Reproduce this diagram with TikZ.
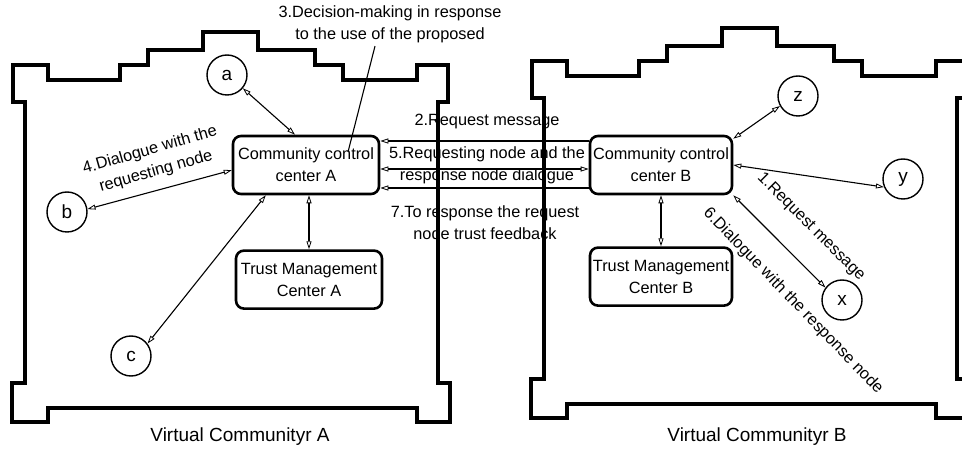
\documentclass[tikz,border=0pt]{standalone}
\usepackage{fontspec}
\setmainfont{Liberation Sans}
\usetikzlibrary{positioning,arrows.meta}

\begin{document}
\begin{tikzpicture}[
    x=1pt, y=-1pt,
    font=\fontsize{16.3}{22}\selectfont,
    ctrl/.style={rectangle, rounded corners=8pt, draw, line width=2.6pt, minimum width=146pt, minimum height=58pt, inner sep=2pt, align=center},
    peer/.style={circle, draw, line width=1.4pt, minimum size=40pt, inner sep=0pt, font=\fontsize{19}{22}\selectfont},
    wall/.style={line width=3.6pt, line join=miter},
    twoway/.style={line width=1.1pt, {Triangle[open,length=8pt,width=5pt,line width=0.8pt]}-{Triangle[open,length=8pt,width=5pt,line width=0.8pt]}},
    oneway/.style={line width=1.1pt, -{Triangle[open,length=8pt,width=5pt,line width=0.8pt]}},
    note/.style={align=center}
]
    \useasboundingbox (0,0) rectangle (962,454);
    \clip (0,0) rectangle (962,454);

    % Community walls
    \foreach \dx/\dy in {0/0, 519/-4} {
        \draw[wall, shift={(\dx,\dy)}] (13,65) -- (48,65) -- (48,80) -- (120,80) -- (120,65) -- (148,65)
            -- (148,50) -- (203,50) -- (203,32) -- (258,32) -- (258,50) -- (315,50) -- (315,65)
            -- (343,65) -- (343,80) -- (417,80) -- (417,65) -- (448,65) -- (448,102) -- (438,102)
            -- (438,383) -- (450,383) -- (450,422) -- (417,422) -- (417,408) -- (48,408) -- (48,422)
            -- (12,422) -- (12,383) -- (25,383) -- (25,102) -- (13,102) -- cycle;
    }
    \node[font=\fontsize{19}{22}\selectfont] (capa) at (240,437) {Virtual Communityr A};
    \node[font=\fontsize{19}{22}\selectfont] (capb) at (757,437) {Virtual Communityr B};

    % Centers
    \node[ctrl] (cca) at (306,165) {Community control\\center A};
    \node[ctrl, below=54pt of cca, xshift=3pt] (tma) {Trust Management\\Center A};
    \node[ctrl, minimum width=142pt] (ccb) at (661,165) {Community control\\center B};
    \node[ctrl, minimum width=142pt, below=51pt of ccb] (tmb) {Trust Management\\Center B};

    % Members
    \node[peer] (na) at (227,75) {a};
    \node[peer] (nb) at (67,212) {b};
    \node[peer] (nc) at (131,356) {c};
    \node[peer] (nz) at (798,96) {z};
    \node[peer] (ny) at (903,179) {y};
    \node[peer] (nx) at (842,300) {x};

    % Labels
    \node[note] (msg3) at (390,24) {3.Decision-making in response\\to the use of the proposed};
    \node[note] (msg2) at (487,122) {2.Request message};
    \node[note] (msg5) at (487,165) {5.Requesting node and the\\response node dialogue};
    \node[note] (msg7) at (485,223) {7.To response the request\\node trust feedback};
    \node[note, rotate=16] (msg4) at (153,161) {4.Dialogue with the\\requesting node};
    \node[note, rotate=-45] (msg1) at (811,227) {1.Request message};
    \node[note, rotate=-46] (msg6) at (793,301) {6.Dialogue with the response node};
    \coordinate (c3) at (348,152);

    % Arrows
    \draw[line width=1.1pt] ([xshift=-15pt]msg3.south) -- (c3);
    \draw[twoway] (na.-40) -- (cca.110);
    \draw[twoway] (nb.8) -- (cca.184);
    \draw[twoway] (nc.37) -- (cca.217);
    \draw[twoway] (cca.south -| tma.north) -- (tma.north);
    \draw[oneway] ([yshift=24pt]ccb.west) -- ([yshift=24pt]cca.east);
    \draw[twoway] ([yshift=-4pt]cca.east) -- ([yshift=-4pt]ccb.west);
    \draw[oneway] ([yshift=-23pt]ccb.west) -- ([yshift=-23pt]cca.east);
    \draw[twoway] (ccb.20) -- (nz.209);
    \draw[twoway] (ccb.east) -- (ny.203);
    \draw[twoway] (ccb.south east) -- (nx.143);
    \draw[twoway] (ccb.south) -- (tmb.north);
\end{tikzpicture}
\end{document}
